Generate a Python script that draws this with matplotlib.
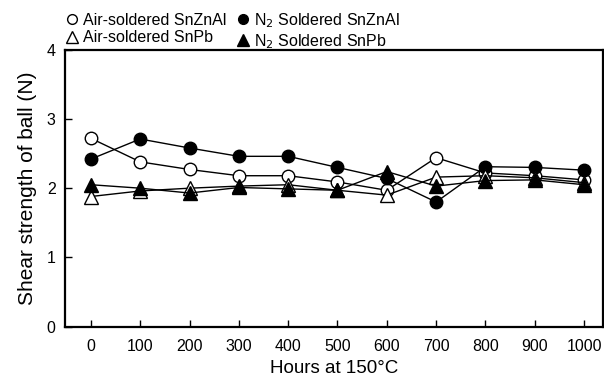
import matplotlib
matplotlib.use("Agg")
import matplotlib.pyplot as plt
from matplotlib.lines import Line2D

plt.rcParams['font.family'] = ['Liberation Sans', 'DejaVu Sans']

hours = [0, 100, 200, 300, 400, 500, 600, 700, 800, 900, 1000]
air_snznal = [2.72, 2.38, 2.27, 2.18, 2.18, 2.09, 1.97, 2.44, 2.22, 2.18, 2.12]
n2_snznal = [2.42, 2.71, 2.58, 2.46, 2.46, 2.30, 2.14, 1.80, 2.31, 2.30, 2.26]
air_snpb = [1.88, 1.96, 2.00, 2.03, 2.05, 1.97, 1.90, 2.16, 2.18, 2.15, 2.08]
n2_snpb = [2.05, 2.00, 1.93, 2.01, 1.99, 1.97, 2.24, 2.03, 2.11, 2.12, 2.05]
labels = ['Air-soldered SnZnAl', 'N$_2$ Soldered SnZnAl', 'Air-soldered SnPb', 'N$_2$ Soldered SnPb']

fig = plt.figure(figsize=(6.04, 3.76), dpi=100)
ax = fig.add_axes([0.108, 0.131, 0.89, 0.737])

ms = 9
ax.plot(hours, air_snznal, '-o', color='black', mfc='white', mec='black', ms=ms, lw=1)
ax.plot(hours, n2_snznal, '-o', color='black', mfc='black', ms=ms, lw=1)
ax.plot(hours, air_snpb, '-^', color='black', mfc='white', mec='black', ms=ms + 1, lw=1)
ax.plot(hours, n2_snpb, '-^', color='black', mfc='black', ms=ms + 1, lw=1)

ax.set_xlim(-52, 1038)
ax.set_ylim(0, 4)
ax.set_xticks(hours)
ax.set_yticks([0, 1, 2, 3, 4])
ax.tick_params(direction='in', labelsize=11.5, length=5, width=1)
ax.tick_params(axis='x', pad=9)
ax.tick_params(axis='y', pad=7)
for s in ax.spines.values():
    s.set_linewidth(1.6)
ax.set_xlabel('Hours at 150°C', fontsize=13.5, labelpad=4)
ax.set_ylabel('Shear strength of ball (N)', fontsize=15, labelpad=7)

# legend markers only, no lines
h = [Line2D([], [], ls='None', marker='o', mfc='white', mec='black', color='black', ms=7),
     Line2D([], [], ls='None', marker='^', mfc='white', mec='black', color='black', ms=8),
     Line2D([], [], ls='None', marker='o', mfc='black', mec='black', color='black', ms=7),
     Line2D([], [], ls='None', marker='^', mfc='black', mec='black', color='black', ms=8)]
fig.legend(h, [labels[0], labels[2], labels[1], labels[3]], ncol=2, loc='upper left',
           bbox_to_anchor=(0.088, 1.005), frameon=False, fontsize=11.5, handlelength=0.8,
           handletextpad=0.3, columnspacing=0.6, labelspacing=0.15, borderpad=0.3)

fig.savefig('out.png', dpi=100)
